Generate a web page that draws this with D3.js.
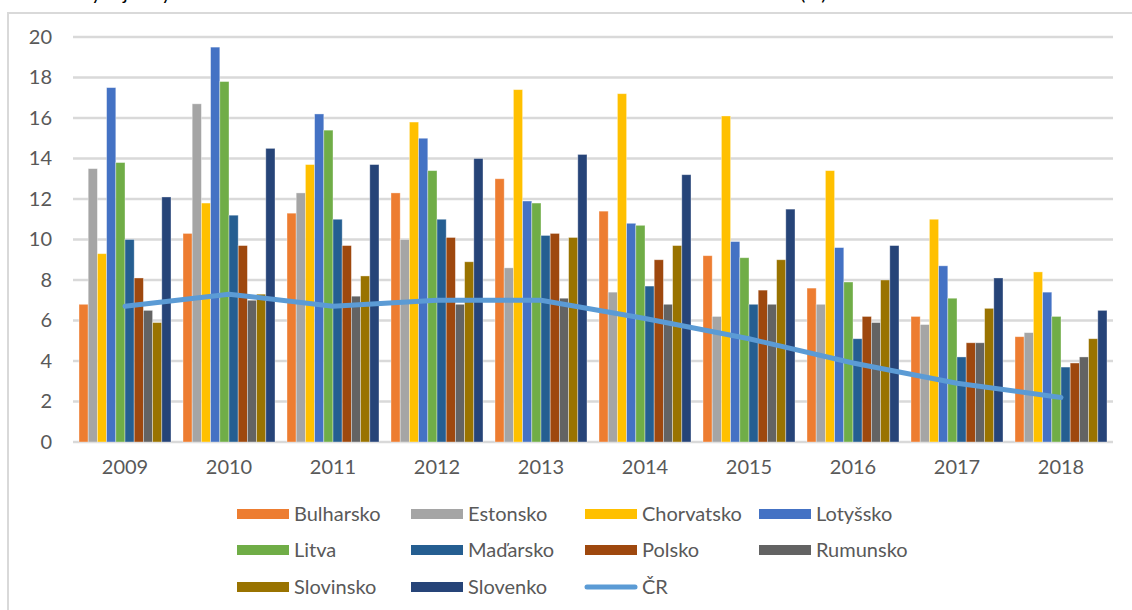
<!DOCTYPE html>
<html lang="cs">
<head>
  <meta charset="UTF-8">
  <title>Míra nezaměstnanosti</title>
  <script src="https://d3js.org/d3.v7.min.js"></script>
  <style>
    body { margin: 0; background: #fff; }
    svg { display: block; font-family: Lato, 'Open Sans', sans-serif; }
  </style>
</head>
<body>
  <div id="canvas"></div>
  <script>
    const years = ['2009', '2010', '2011', '2012', '2013', '2014', '2015', '2016', '2017', '2018'];
    const countries = ['Bulharsko', 'Estonsko', 'Chorvatsko', 'Lotyšsko', 'Litva', 'Maďarsko', 'Polsko', 'Rumunsko', 'Slovinsko', 'Slovenko'];

    const bulharsko  = [6.8, 10.3, 11.3, 12.3, 13.0, 11.4, 9.2, 7.6, 6.2, 5.2];
    const estonsko   = [13.5, 16.7, 12.3, 10.0, 8.6, 7.4, 6.2, 6.8, 5.8, 5.4];
    const chorvatsko = [9.3, 11.8, 13.7, 15.8, 17.4, 17.2, 16.1, 13.4, 11.0, 8.4];
    const lotyssko   = [17.5, 19.5, 16.2, 15.0, 11.9, 10.8, 9.9, 9.6, 8.7, 7.4];
    const litva      = [13.8, 17.8, 15.4, 13.4, 11.8, 10.7, 9.1, 7.9, 7.1, 6.2];
    const madarsko   = [10.0, 11.2, 11.0, 11.0, 10.2, 7.7, 6.8, 5.1, 4.2, 3.7];
    const polsko     = [8.1, 9.7, 9.7, 10.1, 10.3, 9.0, 7.5, 6.2, 4.9, 3.9];
    const rumunsko   = [6.5, 7.0, 7.2, 6.8, 7.1, 6.8, 6.8, 5.9, 4.9, 4.2];
    const slovinsko  = [5.9, 7.3, 8.2, 8.9, 10.1, 9.7, 9.0, 8.0, 6.6, 5.1];
    const slovenko   = [12.1, 14.5, 13.7, 14.0, 14.2, 13.2, 11.5, 9.7, 8.1, 6.5];
    const cr         = [6.7, 7.3, 6.7, 7.0, 7.0, 6.1, 5.1, 3.9, 2.9, 2.2];

    const yTicks = [0, 2, 4, 6, 8, 10, 12, 14, 16, 18, 20];

    const seriesValues = [bulharsko, estonsko, chorvatsko, lotyssko, litva, madarsko, polsko, rumunsko, slovinsko, slovenko];
    const colors = ['#ED7D31', '#A5A5A5', '#FFC000', '#4472C4', '#70AD47', '#255E91', '#9E480E', '#636363', '#997300', '#264478'];
    const lineColor = '#5B9BD5';

    const width = 1132;
    const height = 610;

    const svg = d3.select('#canvas')
      .append('svg')
      .attr('width', width)
      .attr('height', height);

    // title cut off at the top edge of the screenshot, only descenders show
    svg.append('text')
      .attr('x', 14)
      .attr('y', 0)
      .attr('fill', '#000')
      .style('font-size', '20px')
      .text('Graf 1: Vývoj míry nezaměstnanosti');
    svg.append('text')
      .attr('x', 800)
      .attr('y', 0)
      .attr('fill', '#000')
      .style('font-size', '20px')
      .text('(%)');

    // chart border
    svg.append('rect')
      .attr('x', 8)
      .attr('y', 13)
      .attr('width', 1140)
      .attr('height', 620)
      .attr('fill', 'none')
      .attr('stroke', '#D9D9D9')
      .attr('stroke-width', 2);

    const x0 = d3.scaleBand().domain(years).range([73, 1113]);
    const x1 = d3.scaleBand().domain(countries).range([6, x0.bandwidth() - 6]);
    const y = d3.scaleLinear().domain([0, 20]).range([442, 37]);

    // gridlines
    svg.append('g')
      .selectAll('line')
      .data(yTicks)
      .enter()
      .append('line')
      .attr('x1', 73)
      .attr('x2', 1113)
      .attr('y1', d => y(d))
      .attr('y2', d => y(d))
      .attr('stroke', '#D9D9D9')
      .attr('stroke-width', 2.5);

    // y axis labels
    const yAxis = d3.axisLeft(y).tickValues(yTicks).tickSize(0).tickPadding(0);
    svg.append('g')
      .attr('transform', 'translate(52,0)')
      .call(yAxis)
      .call(g => g.select('.domain').remove())
      .selectAll('text')
      .attr('fill', '#595959')
      .style('font-size', '20px')
      .style('font-family', 'Lato, sans-serif');

    // x axis labels
    const xAxis = d3.axisBottom(x0).tickSize(0).tickPadding(0);
    svg.append('g')
      .attr('transform', 'translate(0,460)')
      .call(xAxis)
      .call(g => g.select('.domain').remove())
      .selectAll('text')
      .attr('fill', '#595959')
      .style('font-size', '20px')
      .style('font-family', 'Lato, sans-serif');

    // bars
    const groups = svg.append('g')
      .selectAll('g')
      .data(years)
      .enter()
      .append('g')
      .attr('transform', d => 'translate(' + x0(d) + ',0)');

    groups.selectAll('rect')
      .data((d, i) => countries.map((c, j) => ({country: c, value: seriesValues[j][i], color: colors[j]})))
      .enter()
      .append('rect')
      .attr('x', d => x1(d.country))
      .attr('y', d => y(d.value))
      .attr('width', x1.bandwidth())
      .attr('height', d => y(0) - y(d.value))
      .attr('fill', d => d.color)
      .attr('stroke', 'rgba(255,255,255,0.45)')
      .attr('stroke-width', 0.8);

    // CR line
    const line = d3.line()
      .x((d, i) => x0(years[i]) + x0.bandwidth() / 2)
      .y(d => y(d));
    svg.append('path')
      .datum(cr)
      .attr('d', line)
      .attr('fill', 'none')
      .attr('stroke', lineColor)
      .attr('stroke-width', 5)
      .attr('stroke-linejoin', 'round')
      .attr('stroke-linecap', 'round');

    // legend
    const legendItems = countries.map((c, i) => ({name: c, color: colors[i], type: 'bar'}));
    legendItems.push({name: 'ČR', color: lineColor, type: 'line'});
    const colX = [237, 411, 585, 759];
    const rowY = [514, 550, 587];

    const legend = svg.append('g')
      .selectAll('g')
      .data(legendItems)
      .enter()
      .append('g')
      .attr('transform', (d, i) => 'translate(' + colX[i % 4] + ',' + rowY[Math.floor(i / 4)] + ')');

    legend.filter(d => d.type === 'bar')
      .append('rect')
      .attr('x', 0)
      .attr('y', -5)
      .attr('width', 52)
      .attr('height', 10)
      .attr('fill', d => d.color);

    legend.filter(d => d.type === 'line')
      .append('line')
      .attr('x1', 2)
      .attr('x2', 50)
      .attr('y1', 0)
      .attr('y2', 0)
      .attr('stroke', d => d.color)
      .attr('stroke-width', 5)
      .attr('stroke-linecap', 'round');

    legend.append('text')
      .attr('x', 57)
      .attr('y', 0)
      .attr('dy', '0.35em')
      .attr('fill', '#595959')
      .style('font-size', '20px')
      .text(d => d.name);
  </script>
</body>
</html>
